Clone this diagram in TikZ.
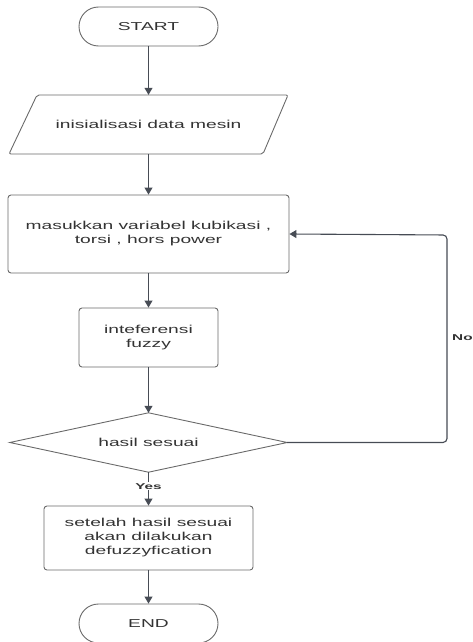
\documentclass[tikz,border=0pt]{standalone}
\usepackage{fontspec}
\setmainfont[FakeStretch=1.67]{Liberation Sans}
\newfontfamily\lblfont[FakeStretch=1.8]{Liberation Sans}
\usetikzlibrary{arrows.meta}
\definecolor{txt}{HTML}{333333}
\definecolor{bord}{HTML}{6A6A6A}
\definecolor{arr}{HTML}{474C55}
\tikzset{
  base/.style={text=txt, inner sep=0pt, align=center, font=\fontsize{11.5}{14}\selectfont},
  terminal/.style={base, draw=bord, line width=0.9pt, rounded corners=19.5pt, minimum width=139pt, minimum height=39pt},
  procbox/.style={base, draw=bord, line width=0.9pt, rounded corners=3pt},
  outline/.style={draw=bord, line width=0.9pt},
  conn/.style={draw=arr, line width=1.1pt, -{Triangle[width=8pt,length=7pt]}},
  lbl/.style={text=txt, inner sep=1pt, font=\lblfont\bfseries\fontsize{8.5}{10}\selectfont}
}
\begin{document}
\begin{tikzpicture}[x=1pt,y=-1pt]
\useasboundingbox (0,0) rectangle (472,642);
\node[terminal] (start) at (148.5,26.5) {START};
\node[base, minimum width=250pt, minimum height=59pt] (par) at (148.5,124.5) {inisialisasi data mesin};
\draw[outline, rounded corners=2pt] (37,95) -- (288,95) -- (263,154) -- (9,154) -- cycle;
\node[procbox, minimum width=281pt, minimum height=78pt] (r1) at (148.5,234) {masukkan variabel kubikasi ,\\torsi , hors power};
\node[procbox, minimum width=139pt, minimum height=59pt] (r2) at (148.5,337.5) {inteferensi\\fuzzy};
\node[base, minimum width=277pt, minimum height=59pt] (dec) at (148.5,442.5) {hasil sesuai};
\draw[outline] (dec.north) -- (dec.east) -- (dec.south) -- (dec.west) -- cycle;
\node[procbox, minimum width=209pt, minimum height=64pt] (r3) at (148.5,538) {setelah hasil sesuai\\akan dilakukan\\defuzzyfication};
\node[terminal] (end) at (148.5,623.5) {END};
\coordinate (lp) at (447,235);
\draw[conn] (start.south) -- (par.north);
\draw[conn] (par.south) -- (r1.north);
\draw[conn] (r1.south) -- (r2.north);
\draw[conn] (r2.south) -- (dec.north);
\draw[conn] (dec.south) -- node[lbl, fill=white, pos=0.42] (yes) {Yes} (r3.north);
\draw[conn] (r3.south) -- (end.north);
\draw[conn, rounded corners=4pt] (dec.east) -| (lp) -- (r1.east);
\node[lbl, anchor=west] (no) at (451,338) {No};
\end{tikzpicture}
\end{document}
